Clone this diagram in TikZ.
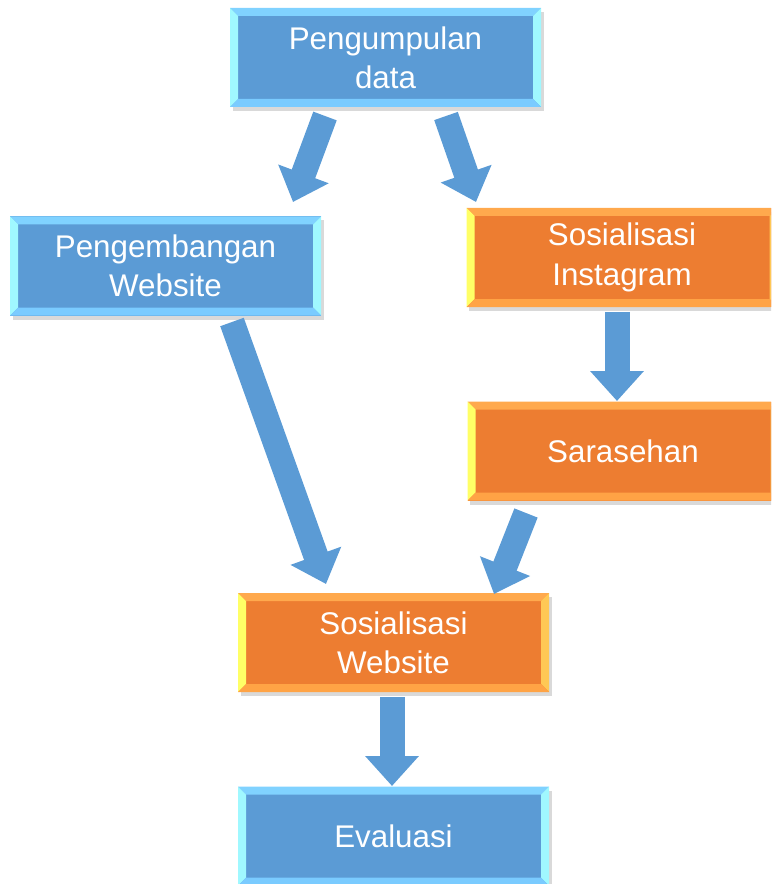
\documentclass[tikz,border=0pt]{standalone}
\usepackage{fontspec}
\setmainfont{Liberation Sans}
\usetikzlibrary{arrows.meta,calc,shadows}
\definecolor{bfill}{HTML}{5B9BD5}
\definecolor{btop}{HTML}{80D2FF}
\definecolor{bside}{HTML}{A0F8FF}
\definecolor{bbot}{HTML}{7ACBFF}
\definecolor{ofill}{HTML}{ED7D31}
\definecolor{otop}{HTML}{FFA94D}
\definecolor{oleft}{HTML}{FFFF66}
\definecolor{oright}{HTML}{FFC855}
\definecolor{obot}{HTML}{FFA345}
\tikzset{
  bevelbox/.style n args={5}{
    rectangle, minimum width=233.25pt, minimum height=74.25pt, inner sep=0pt,
    fill=#1, text=white, align=center,
    font=\fontsize{23.5}{29.5}\selectfont,
    drop shadow={shadow xshift=2pt, shadow yshift=-3pt, opacity=0.25, fill=black!60},
    path picture={
      \coordinate (pNW) at (path picture bounding box.north west);
      \coordinate (pNE) at (path picture bounding box.north east);
      \coordinate (pSW) at (path picture bounding box.south west);
      \coordinate (pSE) at (path picture bounding box.south east);
      \fill[#2] (pNW) -- (pNE) -- ($(pNE)+(-6pt,-6pt)$) -- ($(pNW)+(6pt,-6pt)$) -- cycle;
      \fill[#3] (pNW) -- ($(pNW)+(6pt,-6pt)$) -- ($(pSW)+(6pt,6pt)$) -- (pSW) -- cycle;
      \fill[#4] (pNE) -- ($(pNE)+(-6pt,-6pt)$) -- ($(pSE)+(-6pt,6pt)$) -- (pSE) -- cycle;
      \fill[#5] (pSW) -- ($(pSW)+(6pt,6pt)$) -- ($(pSE)+(-6pt,6pt)$) -- (pSE) -- cycle;
    }
  },
  bluebox/.style={bevelbox={bfill}{btop}{bside}{bside}{bbot}},
  orangebox/.style={bevelbox={ofill}{otop}{oleft}{oright}{obot}},
  blockarrow/.style={draw=bfill, line width=18.75pt,
    -{Triangle[width=39pt,length=22.5pt]}, shorten <=0pt}
}
\begin{document}
\begin{tikzpicture}[x=0.75pt,y=-0.75pt]
\useasboundingbox (0,0) rectangle (771,884);
\clip (0,0) rectangle (771,884);
\node[bluebox] (b1) at (385.5,57.5) {Pengumpulan\\data};
\node[bluebox] (b2) at (165.5,266) {Pengembangan\\Website};
\node[orangebox] (b3) at (622,257.5) {Sosialisasi\\Instagram};
\node[orangebox] (b4) at (623,451) {Sarasehan};
\node[orangebox] (b5) at (393.5,642.5) {Sosialisasi\\Website};
\node[bluebox] (b6) at (393.5,836) {Evaluasi};
\coordinate (a1s) at (325,116);
\coordinate (a1e) at (293,202);
\coordinate (a2s) at (446,116);
\coordinate (a2e) at (476,202);
\coordinate (a3s) at (232,322);
\coordinate (a3e) at (326,584);
\coordinate (a4s) at (617,312);
\coordinate (a4e) at (617,401);
\coordinate (a5s) at (526,513);
\coordinate (a5e) at (494,594);
\coordinate (a6s) at (392,697);
\coordinate (a6e) at (392,786);
\draw[blockarrow] (a1s) -- (a1e);
\draw[blockarrow] (a2s) -- (a2e);
\draw[blockarrow] (a3s) -- (a3e);
\draw[blockarrow] (a4s) -- (a4e);
\draw[blockarrow] (a5s) -- (a5e);
\draw[blockarrow] (a6s) -- (a6e);
\end{tikzpicture}
\end{document}
